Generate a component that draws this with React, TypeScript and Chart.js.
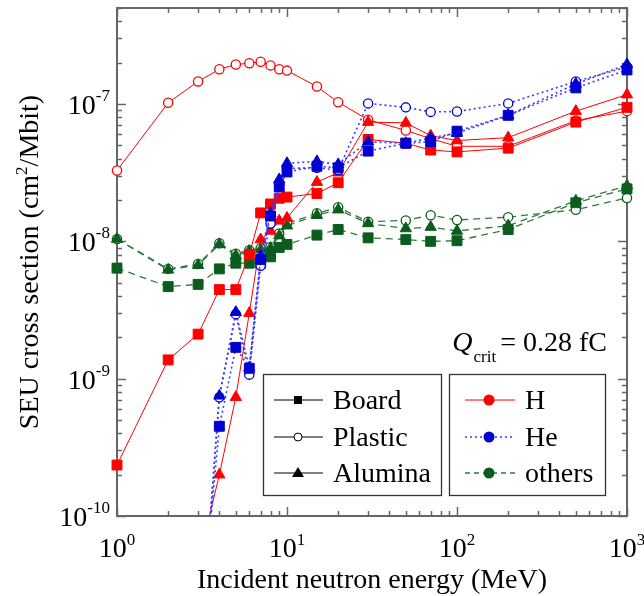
import React, { useEffect, useRef } from 'react';
import { Chart, registerables } from 'chart.js';

Chart.register(...registerables);

const FONT = '"Liberation Serif", "Times New Roman", Times, serif';

// ---- data ----
const energies = [1, 2, 3, 4, 5, 6, 7, 8, 9, 10, 15, 20, 30, 50, 70, 100, 200, 500, 1000];

const hBoard = [2.35e-10, 1.37e-9, 2.11e-9, 4.45e-9, 4.45e-9, 8.0e-9, 1.61e-8, 1.87e-8, 2.06e-8, 2.1e-8, 2.23e-8, 2.67e-8, 5.52e-8, 5.18e-8, 4.62e-8, 4.48e-8, 4.77e-8, 7.38e-8, 9.45e-8];
const hPlastic = [3.28e-8, 1.02e-7, 1.46e-7, 1.79e-7, 1.94e-7, 1.98e-7, 2.03e-7, 1.91e-7, 1.79e-7, 1.75e-7, 1.34e-7, 1.03e-7, 7.67e-8, 6.42e-8, 5.59e-8, 4.92e-8, 4.92e-8, 7.57e-8, 8.87e-8];
const hAlumina = [null, null, 4.5e-11, 2.0e-10, 7.33e-10, 3.0e-9, 1.03e-8, 1.19e-8, 1.41e-8, 1.48e-8, 2.7e-8, 3.16e-8, 7.38e-8, 7.29e-8, 5.88e-8, 5.42e-8, 5.69e-8, 8.87e-8, 1.17e-7];

const heBoard = [null, null, 9.5e-12, 4.5e-10, 1.69e-9, 1.19e-9, 7.38e-9, 1.53e-8, 2.49e-8, 3.2e-8, 3.52e-8, 3.43e-8, 4.54e-8, 5.18e-8, 5.31e-8, 6.34e-8, 8.27e-8, 1.31e-7, 1.77e-7];
const hePlastic = [null, null, 6.6e-12, 7.33e-10, 2.95e-9, 1.07e-9, 6.63e-9, 1.35e-8, 2.6e-8, 3.4e-8, 3.43e-8, 3.3e-8, 1.01e-7, 9.45e-8, 8.76e-8, 8.81e-8, 1.01e-7, 1.46e-7, 1.86e-7];
const heAlumina = [null, null, 6.6e-12, 7.5e-10, 3.05e-9, 1.2e-9, 7.8e-9, 1.6e-8, 2.82e-8, 3.7e-8, 3.82e-8, 3.63e-8, 5.3e-8, 5.18e-8, 5.66e-8, 6.14e-8, 8.27e-8, 1.4e-7, 1.94e-7];

const othersBoard = [6.38e-9, 4.68e-9, 4.86e-9, 6.3e-9, 6.93e-9, 6.93e-9, 6.93e-9, 7.71e-9, 9.03e-9, 9.5e-9, 1.11e-8, 1.22e-8, 1.06e-8, 1.03e-8, 1.0e-8, 1.01e-8, 1.22e-8, 1.91e-8, 2.41e-8];
const othersPlastic = [1.04e-8, 6.3e-9, 6.83e-9, 9.68e-9, 8.12e-9, 8.62e-9, 8.9e-9, 9.1e-9, 1.14e-8, 1.35e-8, 1.6e-8, 1.77e-8, 1.39e-8, 1.42e-8, 1.55e-8, 1.43e-8, 1.5e-8, 1.7e-8, 2.07e-8];
const othersAlumina = [1.04e-8, 6.2e-9, 6.7e-9, 9.5e-9, 7.9e-9, 8.5e-9, 8.7e-9, 8.9e-9, 1.1e-8, 1.3e-8, 1.55e-8, 1.7e-8, 1.35e-8, 1.24e-8, 1.27e-8, 1.19e-8, 1.3e-8, 1.97e-8, 2.54e-8];

// ---- axes / text ----
const xMin = 1, xMax = 1000, yMin = 1e-10, yMax = 5e-7;
const xDecades = [1, 10, 100, 1000];
const xExponents = ['0', '1', '2', '3'];
const yDecades = [1e-10, 1e-9, 1e-8, 1e-7];
const yExponents = ['-10', '-9', '-8', '-7'];
const xTitle = 'Incident neutron energy (MeV)';
const yTitleParts = ['SEU cross section (cm', '2', '/Mbit)'];
const materialLabels = ['Board', 'Plastic', 'Alumina'];
const particleLabels = ['H', 'He', 'others'];
const qParts = ['Q', 'crit', '= 0.28 fC'];

const RED = '#ff0000';
const BLUE = '#0000d0';
const GREEN = '#0b5d1e';
const BLUE_LINE = '#3a3aff';
const GREEN_LINE = '#2f7a3e';

type Style = { color: string; line: string; dash: number[]; width: number };
const H: Style = { color: RED, line: RED, dash: [], width: 1 };
const HE: Style = { color: BLUE, line: BLUE_LINE, dash: [2, 3], width: 1.6 };
const OT: Style = { color: GREEN, line: GREEN_LINE, dash: [7, 5], width: 1.3 };

function ds(label: string, values: (number | null)[], s: Style, kind: 'board' | 'plastic' | 'alumina') {
  const base: any = {
    label,
    data: energies.map((e, i) => ({ x: e, y: values[i] })),
    borderColor: s.line,
    borderWidth: s.width,
    borderDash: s.dash,
    tension: 0,
    fill: false,
    clip: { left: 10, right: 10, top: 10, bottom: 0 },
    pointBorderColor: s.color,
    pointHoverRadius: 0,
  };
  if (kind === 'board') {
    base.pointStyle = 'rect';
    base.pointRadius = 7;
    base.pointBackgroundColor = s.color;
    base.pointBorderWidth = 1;
  } else if (kind === 'plastic') {
    base.pointStyle = 'circle';
    base.pointRadius = 4.6;
    base.pointBackgroundColor = '#ffffff';
    base.pointBorderWidth = 1.3;
  } else {
    base.pointStyle = 'triangle';
    base.pointRadius = 6.5;
    base.pointBackgroundColor = s.color;
    base.pointBorderWidth = 1;
  }
  return base;
}

function line(ctx: CanvasRenderingContext2D, x1: number, y1: number, x2: number, y2: number) {
  ctx.beginPath();
  ctx.moveTo(x1, y1);
  ctx.lineTo(x2, y2);
  ctx.stroke();
}

const framePlugin = {
  id: 'frameTicks',
  beforeDatasetsDraw(chart: any) {
    const { ctx, chartArea: a } = chart;
    const xs = chart.scales.x, ys = chart.scales.y;
    ctx.save();
    ctx.strokeStyle = '#666666';
    ctx.lineWidth = 2;
    ctx.strokeRect(a.left, a.top, a.right - a.left, a.bottom - a.top);
    ctx.lineWidth = 1.5;
    for (const d of xDecades) {
      for (let m = 1; m <= 9; m++) {
        const v = d * m;
        if (v > xMax * 1.0001) break;
        const p = Math.round(xs.getPixelForValue(v)) + 0.5;
        const L = m === 1 ? 9 : 5;
        line(ctx, p, a.bottom, p, a.bottom - L);
        line(ctx, p, a.top, p, a.top + L);
      }
    }
    for (const d of yDecades) {
      for (let m = 1; m <= 9; m++) {
        const v = d * m;
        if (v > yMax * 1.0001) break;
        const p = Math.round(ys.getPixelForValue(v)) + 0.5;
        const L = m === 1 ? 9 : 5;
        line(ctx, a.left, p, a.left + L, p);
        line(ctx, a.right, p, a.right - L, p);
      }
    }
    ctx.restore();
  },
  afterDraw(chart: any) {
    const { ctx, chartArea: a } = chart;
    const xs = chart.scales.x, ys = chart.scales.y;
    ctx.save();
    ctx.fillStyle = '#000';
    ctx.textBaseline = 'alphabetic';
    const big = `28px ${FONT}`;
    const small = `17px ${FONT}`;

    // x tick labels
    xDecades.forEach((d, i) => {
      const p = xs.getPixelForValue(d);
      ctx.font = big;
      const w1 = ctx.measureText('10').width;
      ctx.font = small;
      const w2 = ctx.measureText(xExponents[i]).width;
      const x0 = p - (w1 + w2) / 2;
      ctx.font = big;
      ctx.textAlign = 'left';
      ctx.fillText('10', x0, 557);
      ctx.font = small;
      ctx.fillText(xExponents[i], x0 + w1, 545);
    });

    // y tick labels
    yDecades.forEach((d, i) => {
      const p = ys.getPixelForValue(d);
      ctx.font = small;
      const w2 = ctx.measureText(yExponents[i]).width;
      ctx.font = big;
      const w1 = ctx.measureText('10').width;
      const xr = 110;
      ctx.textAlign = 'left';
      ctx.fillText('10', xr - w2 - w1, p + 10);
      ctx.font = small;
      ctx.fillText(yExponents[i], xr - w2, p - 3);
    });

    // x title
    ctx.font = big;
    ctx.textAlign = 'center';
    ctx.fillText(xTitle, (a.left + a.right) / 2, 588);

    // y title (rotated, with superscript)
    ctx.save();
    ctx.translate(38, (a.top + a.bottom) / 2);
    ctx.rotate(-Math.PI / 2);
    ctx.font = big;
    const t0 = ctx.measureText(yTitleParts[0]).width;
    const t2 = ctx.measureText(yTitleParts[2]).width;
    ctx.font = small;
    const t1 = ctx.measureText(yTitleParts[1]).width;
    let sx = -(t0 + t1 + t2) / 2;
    ctx.textAlign = 'left';
    ctx.font = big;
    ctx.fillText(yTitleParts[0], sx, 0);
    sx += t0;
    ctx.font = small;
    ctx.fillText(yTitleParts[1], sx, -11);
    sx += t1;
    ctx.font = big;
    ctx.fillText(yTitleParts[2], sx, 0);
    ctx.restore();

    // Q_crit annotation
    ctx.textAlign = 'left';
    ctx.font = `italic 28px ${FONT}`;
    const q0 = ctx.measureText(qParts[0]).width;
    ctx.font = small;
    const q1 = ctx.measureText(qParts[1]).width;
    ctx.font = big;
    const q2 = ctx.measureText(qParts[2]).width;
    let qx = 607 - (q0 + q1 + 5 + q2);
    ctx.font = `italic 28px ${FONT}`;
    ctx.fillText(qParts[0], qx, 351);
    qx += q0 + 1;
    ctx.font = small;
    ctx.fillText(qParts[1], qx, 362);
    qx += q1 + 4;
    ctx.font = big;
    ctx.fillText(qParts[2], qx, 351);

    // legend boxes
    const rows = [400, 437, 473];
    const box = (x0: number, y0: number, x1: number, y1: number) => {
      ctx.fillStyle = '#ffffff';
      ctx.fillRect(x0, y0, x1 - x0, y1 - y0);
      ctx.strokeStyle = '#333333';
      ctx.lineWidth = 1.3;
      ctx.strokeRect(x0, y0, x1 - x0, y1 - y0);
    };
    box(263.5, 374.5, 441.5, 495.5);
    box(449.5, 374.5, 605.5, 495.5);

    // material legend
    materialLabels.forEach((lab, i) => {
      const y = rows[i];
      ctx.setLineDash([]);
      ctx.strokeStyle = i === 2 ? '#808080' : '#000000';
      ctx.lineWidth = i === 2 ? 2 : 1;
      line(ctx, 274, y, 323, y);
      ctx.fillStyle = '#000';
      ctx.strokeStyle = '#000';
      ctx.lineWidth = 1;
      if (i === 0) {
        ctx.fillRect(298 - 4, y - 4, 8, 8);
      } else if (i === 1) {
        ctx.beginPath();
        ctx.arc(298, y, 4, 0, Math.PI * 2);
        ctx.fillStyle = '#fff';
        ctx.fill();
        ctx.stroke();
      } else {
        ctx.beginPath();
        ctx.moveTo(298, y - 6);
        ctx.lineTo(304, y + 4);
        ctx.lineTo(292, y + 4);
        ctx.closePath();
        ctx.fill();
      }
      ctx.fillStyle = '#000';
      ctx.font = big;
      ctx.textAlign = 'left';
      ctx.fillText(lab, 333, y + 9);
    });

    // particle legend
    const pStyles = [H, HE, OT];
    particleLabels.forEach((lab, i) => {
      const y = rows[i];
      const s = pStyles[i];
      ctx.strokeStyle = s.line;
      ctx.lineWidth = s.width;
      ctx.setLineDash(i === 2 ? [5, 4] : s.dash);
      line(ctx, 465, y, 515, y);
      ctx.setLineDash([]);
      ctx.fillStyle = s.color;
      ctx.beginPath();
      ctx.arc(489, y, 5.5, 0, Math.PI * 2);
      ctx.fill();
      ctx.fillStyle = '#000';
      ctx.font = big;
      ctx.textAlign = 'left';
      ctx.fillText(lab, 525, y + 9);
    });

    ctx.restore();
  },
};

export default function App() {
  const ref = useRef<HTMLCanvasElement | null>(null);
  useEffect(() => {
    document.body.style.margin = '0';
    const canvas = ref.current;
    if (!canvas) return;
    const chart = new Chart(canvas, {
      type: 'line',
      data: {
        datasets: [
          ds('He Board', heBoard, HE, 'board'),
          ds('He Alumina', heAlumina, HE, 'alumina'),
          ds('He Plastic', hePlastic, HE, 'plastic'),
          ds('H Board', hBoard, H, 'board'),
          ds('H Alumina', hAlumina, H, 'alumina'),
          ds('H Plastic', hPlastic, H, 'plastic'),
          ds('others Board', othersBoard, OT, 'board'),
          ds('others Alumina', othersAlumina, OT, 'alumina'),
          ds('others Plastic', othersPlastic, OT, 'plastic'),
        ],
      },
      options: {
        animation: false,
        responsive: false,
        devicePixelRatio: 1,
        parsing: true,
        layout: { padding: { left: 0, top: 7, right: 17, bottom: 0 } },
        plugins: { legend: { display: false }, tooltip: { enabled: false } },
        events: [],
        scales: {
          x: {
            type: 'logarithmic',
            min: xMin,
            max: xMax,
            ticks: { display: false },
            grid: { display: false },
            border: { display: false },
            afterFit: (s: any) => { s.height = 80; },
          },
          y: {
            type: 'logarithmic',
            min: yMin,
            max: yMax,
            ticks: { display: false },
            grid: { display: false },
            border: { display: false },
            afterFit: (s: any) => { s.width = 117; },
          },
        },
      } as any,
      plugins: [framePlugin],
    });
    return () => chart.destroy();
  }, []);
  return (
    <div style={{ position: 'absolute', left: 0, top: 0, width: 644, height: 596, background: '#fff' }}>
      <canvas ref={ref} width={644} height={596} style={{ width: 644, height: 596, display: 'block' }} />
    </div>
  );
}
